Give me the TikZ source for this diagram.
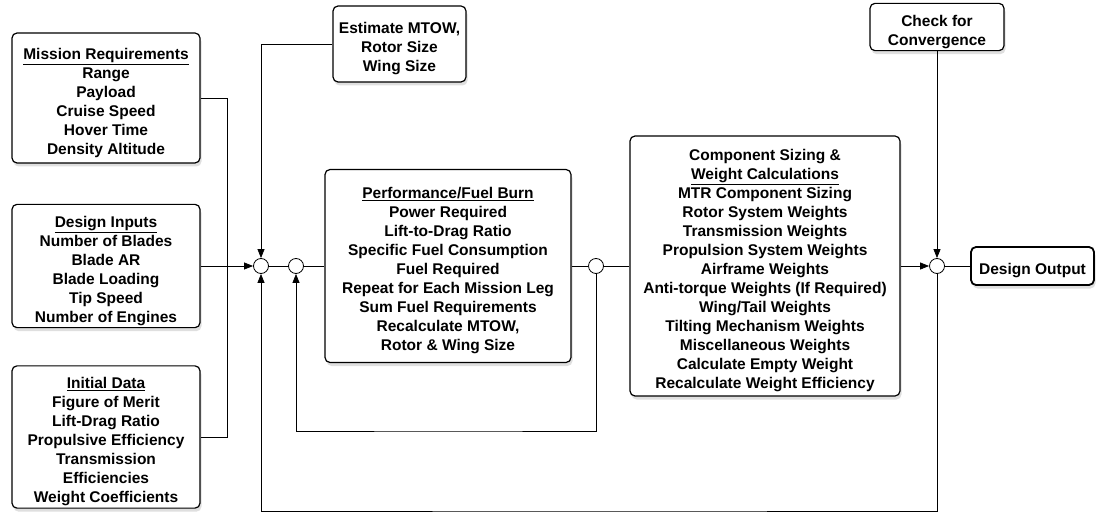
\documentclass[tikz,border=0pt]{standalone}
\usepackage{fontspec}
\setmainfont{Liberation Sans}
\usetikzlibrary{arrows.meta,shadows}
\newcommand{\topstrut}{\rule{0pt}{21pt}}
\begin{document}
\begin{tikzpicture}[x=1pt,y=-1pt,
  box/.style={draw, line width=1.2pt, rounded corners=5pt, fill=white, align=center,
    font=\bfseries\fontsize{15.5}{19}\selectfont, inner sep=2pt,
    drop shadow={shadow xshift=1.5pt, shadow yshift=-3.5pt, opacity=0.25}},
  junc/.style={circle, draw, line width=0.8pt, fill=white, minimum size=15pt, inner sep=0pt},
  conn/.style={line width=0.8pt},
  arr/.style={conn, -{Triangle[length=9pt,width=7pt]}}]
\useasboundingbox (0,0) rectangle (1097,513);

\node[box, minimum width=188pt, minimum height=130pt] (mission) at (106,98)
  {\topstrut\underline{Mission Requirements}\\Range\\Payload\\Cruise Speed\\Hover Time\\Density Altitude};
\node[box, minimum width=188pt, minimum height=121pt] (design) at (106,266)
  {\topstrut\underline{Design Inputs}\\Number of Blades\\Blade AR\\Blade Loading\\Tip Speed\\Number of Engines};
\node[box, minimum width=188pt, minimum height=136pt] (initial) at (106,437)
  {\topstrut\underline{Initial Data}\\Figure of Merit\\Lift-Drag Ratio\\Propulsive Efficiency\\Transmission\\Efficiencies\\Weight Coefficients};
\node[box, minimum width=133pt, minimum height=76pt] (estimate) at (399.5,44)
  {\topstrut Estimate MTOW,\\Rotor Size\\Wing Size};
\node[box, minimum width=246pt, minimum height=193pt] (perf) at (448,266)
  {\topstrut\underline{Performance/Fuel Burn}\\Power Required\\Lift-to-Drag Ratio\\Specific Fuel Consumption\\Fuel Required\\Repeat for Each Mission Leg\\Sum Fuel Requirements\\Recalculate MTOW,\\Rotor \& Wing Size};
\node[box, minimum width=270pt, minimum height=260pt] (comp) at (765,266)
  {\topstrut Component Sizing \&\\\underline{Weight Calculations}\\MTR Component Sizing\\Rotor System Weights\\Transmission Weights\\Propulsion System Weights\\Airframe Weights\\Anti-torque Weights (If Required)\\Wing/Tail Weights\\Tilting Mechanism Weights\\Miscellaneous Weights\\Calculate Empty Weight\\Recalculate Weight Efficiency};
\node[box, minimum width=134pt, minimum height=44pt] (check) at (937,27)
  {\topstrut Check for\\Convergence};
\node[box, line width=1.8pt, minimum width=123pt, minimum height=38pt] (output) at (1032.5,266)
  {\topstrut Design Output};

\node[junc] (c1) at (261,266) {};
\node[junc] (c2) at (296,266) {};
\node[junc] (c3) at (596,266) {};
\node[junc] (c4) at (937,266) {};

\coordinate (bus) at (227,437);
\coordinate (innerloop) at (450,431);
\coordinate (outerloop) at (600,511);

\draw[conn] (mission.east) -| (bus) -- (initial.east);
\draw[arr] (design.east) -- (c1.west);
\draw[arr] (estimate.west) -| (c1.north);
\draw[conn] (c1) -- (c2);
\draw[conn] (c2) -- (perf);
\draw[conn] (perf) -- (c3);
\draw[conn] (c3) -- (comp);
\draw[arr] (c3.south) |- (innerloop) -| (c2.south);
\draw[arr] (comp.east) -- (c4.west);
\draw[arr] (check.south) -- (c4.north);
\draw[conn] (c4) -- (output);
\draw[arr] (c4.south) |- (outerloop) -| (c1.south);
\end{tikzpicture}
\end{document}
